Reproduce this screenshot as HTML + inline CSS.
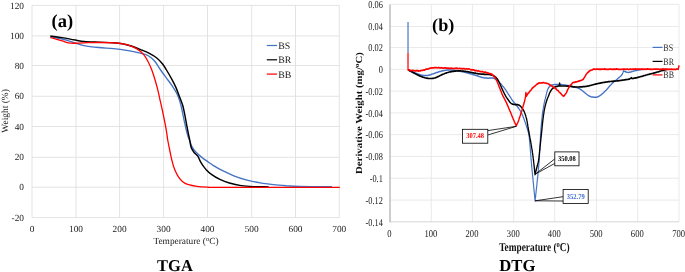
<!DOCTYPE html>
<html><head><meta charset="utf-8"><title>TGA DTG</title>
<style>html,body{margin:0;padding:0;background:#fff}svg{display:block;will-change:transform}text{font-family:"Liberation Serif",serif;text-rendering:geometricPrecision}</style>
</head><body>
<svg width="685" height="272" viewBox="0 0 685 272" fill="#1a1a1a">
<rect width="685" height="272" fill="#fff"/>
<g stroke="#dcdcdc" stroke-width="0.8" fill="none">
<line x1="32.0" y1="5.4" x2="32.0" y2="217.6"/>
<line x1="76.0" y1="5.4" x2="76.0" y2="217.6"/>
<line x1="119.6" y1="5.4" x2="119.6" y2="217.6"/>
<line x1="163.6" y1="5.4" x2="163.6" y2="217.6"/>
<line x1="207.5" y1="5.4" x2="207.5" y2="217.6"/>
<line x1="251.7" y1="5.4" x2="251.7" y2="217.6"/>
<line x1="295.5" y1="5.4" x2="295.5" y2="217.6"/>
<line x1="339.3" y1="5.4" x2="339.3" y2="217.6"/>
<line x1="32.0" y1="5.4" x2="339.3" y2="5.4"/>
<line x1="32.0" y1="35.9" x2="339.3" y2="35.9"/>
<line x1="32.0" y1="65.5" x2="339.3" y2="65.5"/>
<line x1="32.0" y1="96.3" x2="339.3" y2="96.3"/>
<line x1="32.0" y1="126.5" x2="339.3" y2="126.5"/>
<line x1="32.0" y1="157.3" x2="339.3" y2="157.3"/>
<line x1="32.0" y1="187.2" x2="339.3" y2="187.2"/>
<line x1="32.0" y1="217.6" x2="339.3" y2="217.6"/>
</g>
<g font-size="9.3" text-anchor="end">
<text x="24.0" y="8.5">120</text>
<text x="24.0" y="39.0">100</text>
<text x="24.0" y="68.6">80</text>
<text x="24.0" y="99.4">60</text>
<text x="24.0" y="129.6">40</text>
<text x="24.0" y="160.4">20</text>
<text x="24.0" y="190.3">0</text>
<text x="24.0" y="220.7">-20</text>
</g>
<g font-size="9.3" text-anchor="middle">
<text x="32.0" y="232.4">0</text>
<text x="76.0" y="232.4">100</text>
<text x="119.6" y="232.4">200</text>
<text x="163.6" y="232.4">300</text>
<text x="207.5" y="232.4">400</text>
<text x="251.7" y="232.4">500</text>
<text x="295.5" y="232.4">600</text>
<text x="339.3" y="232.4">700</text>
</g>
<text font-size="9.35" text-anchor="middle" x="186" y="244.4">Temperature (<tspan font-size="6.6" dy="-3">o</tspan><tspan dy="3">C)</tspan></text>
<text font-size="9.45" text-anchor="middle" transform="translate(8.1,110.9) rotate(-90)">Weight (%)</text>
<text font-size="16.5" font-weight="bold" text-anchor="middle" x="175" y="270.5" fill="#000">TGA</text>
<text font-size="18.5" font-weight="bold" x="51.5" y="27.3" fill="#000">(a)</text>
<path d="M50.3,36.8 C52.3,37.2 58.2,38.0 62.1,39.0 C66.0,40.0 70.1,41.5 73.8,42.6 C77.5,43.7 79.9,44.8 84.1,45.6 C88.3,46.4 93.9,47.0 98.8,47.5 C103.7,48.0 108.6,48.1 113.5,48.6 C118.4,49.1 124.1,50.0 128.2,50.7 C132.3,51.4 135.1,52.0 138.0,52.6 C140.9,53.2 143.7,53.7 145.9,54.6 C148.2,55.5 149.9,56.7 151.5,58.0 C153.1,59.3 154.2,60.5 155.7,62.5 C157.2,64.5 158.8,67.4 160.6,70.0 C162.4,72.6 164.5,75.4 166.5,78.1 C168.5,80.8 170.7,83.6 172.4,86.2 C174.1,88.8 175.6,91.0 176.8,93.5 C178.0,96.0 178.9,98.3 179.7,100.9 C180.5,103.5 181.2,106.3 181.8,109.0 C182.4,111.7 182.8,113.8 183.4,116.8 C184.0,119.8 184.9,123.9 185.6,127.1 C186.3,130.3 187.1,133.7 187.8,135.9 C188.5,138.1 189.0,138.7 189.7,140.5 C190.4,142.3 190.9,144.7 191.9,146.6 C192.9,148.5 194.0,150.1 195.6,151.8 C197.2,153.6 199.5,155.5 201.5,157.1 C203.5,158.7 205.4,160.0 207.4,161.4 C209.4,162.8 211.3,164.2 213.5,165.6 C215.7,167.0 217.2,168.0 220.6,169.7 C224.0,171.4 229.4,174.2 233.8,175.9 C238.2,177.7 242.7,179.0 247.1,180.2 C251.5,181.4 255.9,182.2 260.3,182.9 C264.7,183.7 269.1,184.2 273.5,184.7 C277.9,185.2 282.4,185.5 286.8,185.8 C291.2,186.1 292.5,186.3 300.0,186.5 C307.5,186.7 326.7,186.7 332.0,186.7" fill="none" stroke="#4472c4" stroke-width="1.35" stroke-linejoin="round" stroke-linecap="butt"/>
<path d="M50.3,36.0 C52.3,36.3 58.2,37.0 62.1,37.6 C66.0,38.2 70.1,39.1 73.8,39.8 C77.5,40.4 79.9,41.1 84.1,41.5 C88.3,41.9 93.9,42.0 98.8,42.2 C103.7,42.4 109.6,42.4 113.5,42.7 C117.4,43.0 119.5,43.2 122.4,43.8 C125.4,44.3 128.1,45.0 131.2,46.0 C134.3,47.0 138.2,48.6 141.2,49.8 C144.2,51.0 146.8,52.0 149.4,53.4 C152.0,54.8 154.6,56.2 156.8,58.0 C159.0,59.8 161.0,62.0 162.6,64.0 C164.2,66.0 165.0,67.5 166.5,70.0 C168.0,72.5 170.0,75.9 171.6,78.8 C173.2,81.7 174.7,84.5 176.0,87.6 C177.3,90.7 178.6,94.3 179.7,97.2 C180.8,100.1 181.7,102.0 182.6,105.0 C183.5,108.0 184.2,111.6 184.9,115.3 C185.7,119.0 186.3,123.2 187.1,127.1 C187.8,131.0 188.7,135.1 189.4,138.5 C190.1,141.9 190.4,145.1 191.2,147.4 C192.0,149.7 193.0,151.0 194.1,152.5 C195.2,154.0 196.7,154.6 197.8,156.2 C198.9,157.8 199.3,159.9 200.7,162.1 C202.0,164.3 204.1,167.3 205.9,169.4 C207.8,171.5 209.5,172.9 211.8,174.6 C214.1,176.3 217.0,178.0 219.9,179.4 C222.8,180.8 225.9,182.0 229.4,183.0 C232.9,184.0 237.3,185.0 241.2,185.6 C245.1,186.2 248.4,186.4 253.0,186.6 C257.6,186.8 266.1,186.8 268.7,186.9" fill="none" stroke="#000000" stroke-width="1.45" stroke-linejoin="round" stroke-linecap="butt"/>
<path d="M50.3,37.5 C52.3,38.1 58.7,39.9 62.1,40.9 C65.5,41.9 67.2,42.9 70.9,43.2 C74.6,43.5 79.4,42.9 84.1,42.8 C88.8,42.7 93.4,42.5 98.8,42.5 C104.2,42.5 111.6,42.6 116.5,43.0 C121.4,43.4 124.9,44.2 128.2,45.1 C131.5,46.0 133.9,47.1 136.5,48.6 C139.1,50.1 141.6,52.2 143.5,54.4 C145.4,56.5 146.6,58.9 148.0,61.5 C149.4,64.1 150.7,67.1 151.8,70.0 C152.9,72.9 153.7,75.6 154.7,78.8 C155.7,82.0 156.7,85.7 157.6,89.1 C158.5,92.5 159.1,95.8 159.9,99.4 C160.7,103.0 161.7,107.1 162.4,110.5 C163.1,113.9 163.6,116.2 164.3,119.7 C165.0,123.2 165.9,128.0 166.5,131.5 C167.1,135.0 167.2,137.3 167.8,140.5 C168.4,143.7 169.1,147.2 169.8,150.5 C170.5,153.8 171.1,157.2 171.9,160.4 C172.7,163.6 173.6,166.9 174.7,169.6 C175.8,172.3 177.0,174.8 178.4,176.8 C179.8,178.9 181.3,180.6 183.0,181.9 C184.7,183.2 186.2,184.0 188.5,184.7 C190.8,185.4 193.6,185.9 196.8,186.3 C200.0,186.7 203.6,186.9 207.8,187.1 C212.0,187.3 200.0,187.3 222.0,187.3 C244.0,187.3 320.2,187.3 339.8,187.3" fill="none" stroke="#ff0000" stroke-width="1.3" stroke-linejoin="round" stroke-linecap="butt"/>
<line x1="266.8" y1="45.5" x2="277.1" y2="45.5" stroke="#4472c4" stroke-width="1.2"/>
<text font-size="9.8" x="278.2" y="48.9">BS</text>
<line x1="266.8" y1="59.8" x2="277.1" y2="59.8" stroke="#000000" stroke-width="1.2"/>
<text font-size="9.8" x="278.2" y="63.2">BR</text>
<line x1="266.8" y1="74.1" x2="277.1" y2="74.1" stroke="#ff0000" stroke-width="1.2"/>
<text font-size="9.8" x="278.2" y="77.5">BB</text>
<g stroke="#e4e4e4" stroke-width="0.8" fill="none">
<line x1="431.3" y1="4.4" x2="431.3" y2="222.0"/>
<line x1="472.4" y1="4.4" x2="472.4" y2="222.0"/>
<line x1="513.7" y1="4.4" x2="513.7" y2="222.0"/>
<line x1="554.7" y1="4.4" x2="554.7" y2="222.0"/>
<line x1="596.5" y1="4.4" x2="596.5" y2="222.0"/>
<line x1="637.7" y1="4.4" x2="637.7" y2="222.0"/>
<line x1="679.0" y1="4.4" x2="679.0" y2="222.0"/>
<line x1="389.9" y1="4.4" x2="679.0" y2="4.4"/>
<line x1="389.9" y1="26.5" x2="679.0" y2="26.5"/>
<line x1="389.9" y1="47.5" x2="679.0" y2="47.5"/>
<line x1="389.9" y1="69.4" x2="679.0" y2="69.4"/>
<line x1="389.9" y1="91.1" x2="679.0" y2="91.1"/>
<line x1="389.9" y1="112.9" x2="679.0" y2="112.9"/>
<line x1="389.9" y1="134.6" x2="679.0" y2="134.6"/>
<line x1="389.9" y1="156.5" x2="679.0" y2="156.5"/>
<line x1="389.9" y1="178.2" x2="679.0" y2="178.2"/>
<line x1="389.9" y1="200.1" x2="679.0" y2="200.1"/>
</g>
<line x1="389.9" y1="221.8" x2="679.0" y2="221.8" stroke="#d2d2d2" stroke-width="0.9"/>
<line x1="390.0" y1="4.4" x2="390.0" y2="222.3" stroke="#bcbcbc" stroke-width="1.5"/>
<text font-size="10.4" text-anchor="end" transform="translate(382.8,8.0) scale(0.8,1)">0.06</text>
<text font-size="10.4" text-anchor="end" transform="translate(382.8,30.1) scale(0.8,1)">0.04</text>
<text font-size="10.4" text-anchor="end" transform="translate(382.8,51.1) scale(0.8,1)">0.02</text>
<text font-size="10.4" text-anchor="end" transform="translate(382.8,73.0) scale(0.8,1)">0</text>
<text font-size="10.4" text-anchor="end" transform="translate(382.8,94.7) scale(0.8,1)">-0.02</text>
<text font-size="10.4" text-anchor="end" transform="translate(382.8,116.5) scale(0.8,1)">-0.04</text>
<text font-size="10.4" text-anchor="end" transform="translate(382.8,138.2) scale(0.8,1)">-0.06</text>
<text font-size="10.4" text-anchor="end" transform="translate(382.8,160.1) scale(0.8,1)">-0.08</text>
<text font-size="10.4" text-anchor="end" transform="translate(382.8,181.8) scale(0.8,1)">-0.1</text>
<text font-size="10.4" text-anchor="end" transform="translate(382.8,203.7) scale(0.8,1)">-0.12</text>
<text font-size="10.4" text-anchor="end" transform="translate(382.8,225.6) scale(0.8,1)">-0.14</text>
<text font-size="10.4" text-anchor="middle" transform="translate(389.5,237.2) scale(0.825,1)">0</text>
<text font-size="10.4" text-anchor="middle" transform="translate(430.9,237.2) scale(0.825,1)">100</text>
<text font-size="10.4" text-anchor="middle" transform="translate(472.0,237.2) scale(0.825,1)">200</text>
<text font-size="10.4" text-anchor="middle" transform="translate(513.3,237.2) scale(0.825,1)">300</text>
<text font-size="10.4" text-anchor="middle" transform="translate(554.3,237.2) scale(0.825,1)">400</text>
<text font-size="10.4" text-anchor="middle" transform="translate(596.1,237.2) scale(0.825,1)">500</text>
<text font-size="10.4" text-anchor="middle" transform="translate(637.3,237.2) scale(0.825,1)">600</text>
<text font-size="10.4" text-anchor="middle" transform="translate(678.6,237.2) scale(0.825,1)">700</text>
<text font-size="12" font-weight="bold" text-anchor="middle" fill="#111" transform="translate(534.4,250.8) scale(0.778,1)">Temperature (<tspan font-size="8.4" dy="-3.6">o</tspan><tspan dy="3.6">C)</tspan></text>
<text font-size="10.77" font-weight="bold" text-anchor="middle" fill="#111" transform="translate(361.9,113) rotate(-90) scale(1,0.86)">Derivative Weight (mg/<tspan font-size="7.4" dy="-3.2">o</tspan><tspan dy="3.2">C)</tspan></text>
<text font-size="16.7" font-weight="bold" text-anchor="middle" x="517.4" y="270.5" fill="#000">DTG</text>
<text font-size="18.2" font-weight="bold" x="432.1" y="30.8" fill="#000">(b)</text>
<g transform="scale(0.78,1)">
<polyline points="523.1,22.0 523.1,53.0" fill="none" stroke="#4472c4" stroke-width="1.5" stroke-linejoin="round" stroke-linecap="butt"/>
<polyline points="523.1,69.9 523.5,70.0 524.0,70.2 524.6,70.4 525.3,70.6 526.1,70.9 526.9,71.1 527.7,71.4 528.6,71.6 529.4,71.9 530.2,72.1 531.0,72.4 531.7,72.6 532.5,72.9 533.2,73.1 534.0,73.4 534.8,73.6 535.5,73.9 536.3,74.1 537.0,74.3 537.7,74.5 538.5,74.7 539.2,74.9 540.1,75.1 540.9,75.2 541.8,75.3 542.6,75.4 543.4,75.5 544.3,75.6 545.1,75.6 546.0,75.6 546.8,75.6 547.5,75.5 548.3,75.5 549.0,75.3 549.7,75.2 550.5,75.0 551.2,74.9 552.0,74.7 552.7,74.5 553.5,74.3 554.4,74.1 555.1,73.9 555.8,73.7 556.6,73.5 557.3,73.3 558.1,73.1 558.9,72.8 559.7,72.6 560.5,72.4 561.3,72.2 562.1,72.0 562.9,71.8 563.7,71.6 564.5,71.4 565.3,71.3 566.1,71.1 566.9,71.0 567.7,70.8 568.5,70.7 569.3,70.5 570.0,70.4 570.8,70.3 571.6,70.2 572.4,70.2 573.2,70.1 574.0,70.1 574.8,70.0 575.6,70.0 576.3,70.0 577.1,70.1 577.9,70.1 578.7,70.1 579.4,70.2 580.2,70.2 581.0,70.3 581.8,70.3 582.6,70.4 583.4,70.5 584.1,70.5 584.9,70.6 585.7,70.7 586.5,70.8 587.3,70.9 588.1,71.0 588.9,71.1 589.7,71.2 590.5,71.4 591.3,71.5 592.1,71.6 592.8,71.7 593.6,71.9 594.4,72.0 595.2,72.1 596.0,72.3 596.7,72.4 597.5,72.6 598.3,72.7 599.1,72.9 599.8,73.1 600.6,73.2 601.4,73.4 602.2,73.6 603.0,73.7 603.8,73.9 604.6,74.1 605.5,74.3 606.3,74.5 607.1,74.7 607.9,74.9 608.7,75.1 609.4,75.2 610.2,75.4 610.9,75.6 611.7,75.8 612.5,76.0 613.3,76.2 614.1,76.4 614.8,76.6 615.5,76.8 616.3,77.0 617.0,77.2 617.7,77.4 618.5,77.5 619.3,77.6 620.2,77.8 621.0,77.9 621.9,77.9 622.7,78.0 623.6,78.1 624.4,78.1 625.2,78.2 625.9,78.2 626.8,78.2 627.7,78.1 628.5,78.1 629.3,78.0 630.1,77.9 630.8,77.9 631.5,77.9 632.4,78.0 633.2,78.3 633.9,78.6 634.6,78.9 635.3,79.2 635.9,79.5 636.5,79.7 637.1,80.0 637.8,80.5 638.7,81.2 639.1,81.5 639.6,81.9 640.1,82.3 640.6,82.8 641.2,83.2 641.8,83.7 642.4,84.2 643.0,84.7 643.6,85.3 644.1,85.8 644.7,86.3 645.3,86.8 645.8,87.3 646.3,87.8 646.8,88.3 647.3,88.8 647.7,89.3 648.2,89.8 648.6,90.3 649.0,90.8 649.4,91.4 649.8,91.9 650.3,92.4 650.7,92.9 651.1,93.4 651.5,93.9 651.9,94.4 652.4,94.9 652.8,95.4 653.3,96.0 653.7,96.5 654.2,97.1 654.6,97.6 655.1,98.1 655.5,98.7 655.9,99.2 656.4,99.7 656.8,100.1 657.2,100.6 657.6,101.0 658.1,101.6 658.7,102.1 659.2,102.6 659.7,103.0 660.1,103.4 660.6,103.9 661.2,104.4 661.8,105.0 662.2,105.4 662.6,105.9 663.1,106.4 663.6,106.8 664.0,107.4 664.5,107.9 665.0,108.4 665.5,109.0 666.0,109.5 666.5,110.1 666.9,110.7 667.4,111.3 667.8,111.9 668.2,112.4 668.5,113.0 668.9,113.5 669.2,114.1 669.5,114.7 669.9,115.3 670.2,115.9 670.5,116.5 670.8,117.1 671.1,117.7 671.4,118.3 671.7,118.9 672.0,119.5 672.3,120.1 672.6,120.7 672.8,121.3 673.1,121.9 673.4,122.5 673.7,123.1 673.9,123.7 674.2,124.3 674.4,124.9 674.7,125.5 674.9,126.1 675.2,126.7 675.4,127.3 675.6,127.9 675.9,128.4 676.1,129.0 676.3,129.6 676.5,130.2 676.7,130.7 676.9,131.1 677.0,131.5 677.2,131.9 677.3,132.3 677.5,132.7 677.6,133.1 677.8,133.6 677.9,134.3 678.1,135.0 678.2,135.8 678.4,136.8 678.6,138.0 678.6,138.4 678.7,138.8 678.8,139.2 678.8,139.7 678.9,140.1 678.9,140.6 679.0,141.1 679.1,141.6 679.1,142.1 679.2,142.6 679.2,143.1 679.3,143.6 679.3,144.2 679.4,144.7 679.5,145.3 679.5,145.9 679.6,146.4 679.6,147.0 679.7,147.6 679.8,148.2 679.8,148.8 679.9,149.5 680.0,150.1 680.0,150.7 680.1,151.4 680.2,152.0 680.2,152.7 680.3,153.3 680.4,154.0 680.4,154.6 680.5,155.3 680.6,156.0 680.6,156.7 680.7,157.4 680.8,158.0 680.8,158.7 680.9,159.4 681.0,160.1 681.1,160.8 681.1,161.5 681.2,162.2 681.3,162.9 681.4,163.6 681.5,164.3 681.5,165.0 681.6,165.5 681.7,166.1 681.7,166.6 681.8,167.2 681.9,167.8 681.9,168.4 682.0,169.0 682.1,169.6 682.2,170.3 682.2,170.9 682.3,171.5 682.4,172.2 682.5,172.9 682.6,173.5 682.7,174.2 682.7,174.9 682.8,175.6 682.9,176.3 683.0,177.0 683.1,177.7 683.2,178.4 683.3,179.1 683.3,179.8 683.4,180.5 683.5,181.2 683.6,181.9 683.7,182.6 683.8,183.3 683.9,184.0 684.0,184.7 684.1,185.4 684.1,186.1 684.2,186.7 684.3,187.4 684.4,188.1 684.5,188.8 684.6,189.4 684.6,190.1 684.7,190.7 684.8,191.3 684.9,192.0 685.0,192.6 685.0,193.2 685.1,193.7 685.2,194.3 685.3,194.9 685.3,195.4 685.4,196.0 685.5,196.5 685.5,197.0 685.6,197.5 685.6,197.9 685.7,198.4 685.8,198.8 685.8,199.2 685.9,199.6 685.9,200.0 685.9,200.4 686.0,200.7 686.0,201.0 686.0,201.0 686.1,200.7 686.1,200.4 686.2,200.0 686.2,199.6 686.3,199.2 686.3,198.8 686.4,198.4 686.4,198.0 686.5,197.5 686.6,197.0 686.6,196.5 686.7,196.0 686.8,195.5 686.9,194.9 686.9,194.4 687.0,193.8 687.1,193.3 687.2,192.7 687.3,192.1 687.3,191.5 687.4,190.8 687.5,190.2 687.6,189.6 687.7,188.9 687.8,188.3 687.9,187.6 688.0,186.9 688.1,186.3 688.2,185.6 688.3,184.9 688.3,184.2 688.4,183.5 688.5,182.8 688.6,182.1 688.7,181.4 688.8,180.7 688.9,180.0 689.0,179.3 689.1,178.6 689.2,177.9 689.3,177.2 689.4,176.5 689.5,175.8 689.6,175.1 689.6,174.4 689.7,173.8 689.8,173.1 689.9,172.4 690.0,171.7 690.1,171.1 690.1,170.4 690.2,169.8 690.3,169.2 690.4,168.5 690.4,167.9 690.5,167.3 690.6,166.7 690.6,166.1 690.7,165.6 690.8,165.0 690.8,164.3 690.9,163.7 691.0,163.0 691.0,162.3 691.1,161.7 691.2,161.0 691.2,160.3 691.3,159.6 691.3,159.0 691.4,158.3 691.5,157.6 691.5,156.9 691.6,156.3 691.6,155.6 691.7,154.9 691.7,154.2 691.8,153.6 691.8,152.9 691.9,152.2 691.9,151.6 692.0,150.9 692.0,150.3 692.1,149.6 692.1,149.0 692.1,148.3 692.2,147.7 692.2,147.1 692.3,146.4 692.3,145.8 692.4,145.2 692.4,144.6 692.4,144.0 692.5,143.4 692.5,142.8 692.5,142.3 692.6,141.7 692.6,141.1 692.7,140.6 692.7,140.0 692.7,139.5 692.8,139.0 692.8,138.4 692.8,137.9 692.9,137.4 692.9,137.0 692.9,136.5 693.0,136.0 693.0,135.6 693.0,135.1 693.1,134.7 693.2,133.6 693.2,132.7 693.3,131.8 693.4,131.0 693.5,130.2 693.5,129.6 693.6,128.9 693.6,128.3 693.7,127.8 693.7,127.3 693.8,126.8 693.8,126.3 693.9,125.9 693.9,125.4 694.0,125.0 694.0,124.5 694.1,124.0 694.2,123.5 694.2,122.9 694.3,122.3 694.4,121.6 694.5,121.0 694.5,120.4 694.6,119.8 694.7,119.1 694.7,118.5 694.8,117.9 694.9,117.4 695.0,116.8 695.1,116.2 695.2,115.6 695.2,115.0 695.3,114.4 695.4,113.8 695.5,113.2 695.6,112.6 695.8,112.0 695.9,111.4 696.0,110.7 696.1,110.1 696.3,109.4 696.4,108.8 696.6,108.1 696.7,107.5 696.9,106.9 697.0,106.2 697.2,105.6 697.3,105.0 697.4,104.4 697.6,103.9 697.7,103.4 697.8,102.9 697.9,102.4 698.2,101.5 698.4,100.8 698.5,100.2 698.7,99.7 698.9,99.2 699.1,98.7 699.3,98.1 699.5,97.4 699.7,96.9 699.8,96.3 700.0,95.6 700.2,95.0 700.4,94.3 700.6,93.6 700.8,92.9 701.0,92.3 701.3,91.6 701.5,91.0 701.7,90.5 701.9,90.0 702.3,89.3 702.7,88.6 703.1,88.0 703.5,87.5 703.9,87.1 704.3,86.7 704.7,86.3 705.4,85.9 706.0,85.5 706.7,85.3 707.5,85.1 708.5,84.9 709.1,84.8 709.8,84.7 710.6,84.6 711.5,84.5 712.3,84.5 713.2,84.4 714.1,84.4 715.1,84.4 716.0,84.4 716.8,84.4 717.5,84.5 718.3,84.5 719.1,84.6 719.9,84.6 720.8,84.7 721.6,84.8 722.4,84.9 723.2,84.9 724.0,85.0 724.8,85.1 725.5,85.2 726.3,85.3 727.1,85.4 727.9,85.5 728.6,85.6 729.3,85.7 730.0,85.8 730.7,85.9 731.5,86.0 732.3,86.1 733.1,86.3 733.8,86.4 734.6,86.6 735.3,86.7 736.1,86.9 736.9,87.0 737.8,87.2 738.6,87.4 739.4,87.6 740.2,87.8 741.0,88.0 741.7,88.2 742.4,88.5 743.1,88.8 743.8,89.1 744.5,89.5 745.2,89.8 745.8,90.2 746.5,90.6 747.1,91.0 747.7,91.4 748.3,91.8 748.9,92.2 749.4,92.6 750.0,92.9 750.7,93.3 751.3,93.7 752.0,94.1 752.5,94.5 753.1,94.9 753.7,95.2 754.3,95.5 754.9,95.8 755.6,96.1 756.3,96.3 757.1,96.5 757.8,96.7 758.6,96.9 759.4,97.0 760.2,97.1 761.0,97.2 761.8,97.3 762.5,97.3 763.2,97.3 764.1,97.3 764.9,97.2 765.7,97.0 766.4,96.8 767.2,96.6 768.0,96.2 768.8,95.8 769.4,95.5 770.0,95.2 770.6,94.8 771.2,94.4 771.9,94.0 772.5,93.6 773.2,93.1 773.8,92.6 774.5,92.2 775.1,91.7 775.8,91.2 776.4,90.7 777.0,90.3 777.5,89.8 778.0,89.4 778.6,88.9 779.1,88.4 779.7,87.9 780.2,87.4 780.7,86.9 781.3,86.4 781.8,85.9 782.4,85.4 782.9,85.0 783.4,84.5 784.0,84.1 784.6,83.7 785.2,83.2 785.8,82.8 786.4,82.4 787.0,81.9 787.6,81.5 788.2,81.1 788.8,80.7 789.4,80.4 789.9,80.0 790.5,79.6 791.0,79.3 791.5,78.9 792.3,78.4 793.0,77.9 793.7,77.5 794.4,77.0 795.0,76.6 795.6,76.2 796.2,75.8 796.7,75.3 797.2,74.9 797.7,74.3 798.1,73.6 798.5,72.9 798.8,72.3 799.0,71.7 799.2,71.2 799.4,70.8 799.4,70.8 800.0,71.0 800.9,71.4 801.9,71.7 802.8,72.0 803.7,72.2 804.5,72.3 805.5,72.4 806.5,72.3 807.2,72.2 808.0,72.1 808.8,71.9 809.7,71.7 810.5,71.5 811.4,71.3 812.2,71.1 813.0,70.9 813.8,70.8 814.5,70.6 815.3,70.5 816.1,70.4 817.0,70.2 817.8,70.1 818.6,70.0 819.5,69.9 820.5,69.8 821.4,69.7 822.3,69.6 823.2,69.5 823.8,69.5 824.4,69.4" fill="none" stroke="#4472c4" stroke-width="1.5" stroke-linejoin="round" stroke-linecap="butt"/>
<polyline points="523.1,69.9 523.5,70.1 524.1,70.3 524.8,70.6 525.5,70.9 526.4,71.2 527.2,71.6 528.1,71.9 528.9,72.3 529.7,72.6 530.4,72.9 531.1,73.1 531.7,73.4 532.4,73.7 533.1,74.0 533.8,74.3 534.5,74.6 535.2,74.8 535.9,75.1 536.6,75.4 537.3,75.6 538.1,75.9 538.8,76.1 539.6,76.4 540.4,76.6 541.2,76.8 541.9,77.1 542.7,77.3 543.4,77.5 544.2,77.6 544.9,77.8 545.7,78.0 546.6,78.1 547.4,78.2 548.2,78.3 549.0,78.4 549.8,78.5 550.6,78.5 551.4,78.5 552.2,78.5 553.0,78.5 553.8,78.5 554.6,78.4 555.4,78.3 556.2,78.2 557.1,78.0 558.1,77.8 558.7,77.6 559.4,77.4 560.1,77.2 560.8,76.9 561.5,76.6 562.2,76.4 563.0,76.1 563.7,75.8 564.5,75.5 565.2,75.2 566.0,74.9 566.7,74.6 567.4,74.4 568.2,74.2 568.9,74.0 569.6,73.7 570.3,73.5 571.0,73.3 571.7,73.1 572.4,72.9 573.1,72.7 573.9,72.5 574.6,72.4 575.4,72.2 576.1,72.0 576.9,71.9 577.7,71.8 578.5,71.7 579.3,71.6 580.1,71.5 580.9,71.4 581.7,71.3 582.6,71.2 583.4,71.1 584.2,71.1 585.1,71.0 585.9,71.0 586.7,70.9 587.5,70.9 588.2,70.9 589.1,70.9 589.9,70.9 590.7,70.9 591.5,71.0 592.3,71.0 593.1,71.1 593.8,71.1 594.6,71.2 595.4,71.3 596.1,71.3 596.9,71.4 597.7,71.5 598.5,71.6 599.3,71.7 600.0,71.8 600.8,71.9 601.6,72.0 602.4,72.2 603.1,72.3 603.9,72.4 604.7,72.5 605.5,72.7 606.3,72.8 607.1,72.9 607.8,73.0 608.6,73.1 609.4,73.2 610.2,73.3 611.0,73.5 611.8,73.6 612.6,73.7 613.4,73.8 614.2,73.9 615.0,74.0 615.8,74.0 616.5,74.1 617.3,74.2 618.1,74.2 619.0,74.2 619.8,74.2 620.6,74.3 621.5,74.3 622.3,74.3 623.1,74.3 623.8,74.3 624.6,74.3 625.2,74.4 625.9,74.4 626.9,74.5 627.8,74.6 628.6,74.7 629.4,74.8 630.1,74.9 630.8,75.1 631.5,75.3 632.3,75.6 633.0,75.9 633.7,76.2 634.4,76.5 635.0,76.9 635.7,77.3 636.3,77.8 636.8,78.2 637.2,78.7 637.7,79.1 638.1,79.6 638.5,80.1 638.9,80.7 639.3,81.3 639.7,81.9 640.0,82.4 640.3,82.9 640.6,83.4 640.9,83.9 641.2,84.5 641.5,85.0 641.8,85.6 642.2,86.2 642.5,86.8 642.8,87.3 643.1,87.9 643.5,88.5 643.8,89.0 644.1,89.6 644.5,90.1 644.8,90.7 645.2,91.3 645.5,91.8 645.9,92.4 646.2,93.0 646.6,93.5 646.9,94.0 647.3,94.6 647.6,95.0 647.9,95.5 648.4,96.1 648.8,96.7 649.3,97.3 649.7,97.8 650.1,98.3 650.5,98.7 651.0,99.2 651.4,99.7 651.8,100.1 652.3,100.7 652.8,101.2 653.3,101.8 653.9,102.3 654.4,102.7 654.9,103.1 655.5,103.5 656.2,103.8 657.0,104.1 657.8,104.2 658.6,104.4 659.5,104.5 660.3,104.6 661.1,104.7 661.9,104.7 662.7,104.7 663.5,104.7 664.3,104.8 665.0,105.0 665.7,105.3 666.3,105.6 666.9,106.0 667.5,106.4 668.1,106.9 668.7,107.5 669.1,107.9 669.6,108.4 670.0,108.9 670.5,109.5 670.9,110.0 671.4,110.6 671.8,111.3 672.2,111.9 672.6,112.6 672.8,113.1 673.1,113.7 673.4,114.2 673.6,114.8 673.9,115.4 674.1,116.0 674.3,116.7 674.5,117.3 674.8,117.9 675.0,118.6 675.2,119.3 675.4,120.0 675.5,120.5 675.7,121.0 675.8,121.6 675.9,122.1 676.0,122.6 676.1,123.2 676.3,123.7 676.4,124.3 676.5,124.8 676.6,125.4 676.7,126.0 676.8,126.7 677.0,127.3 677.1,128.0 677.3,128.7 677.4,129.5 677.6,130.0 677.7,130.5 677.8,131.1 677.9,131.6 678.1,132.2 678.2,132.8 678.4,133.4 678.5,134.0 678.6,134.6 678.8,135.2 679.0,135.8 679.1,136.5 679.3,137.1 679.4,137.7 679.6,138.4 679.7,139.0 679.9,139.7 680.0,140.3 680.2,141.0 680.3,141.6 680.5,142.2 680.6,142.9 680.8,143.5 680.9,144.1 681.0,144.7 681.2,145.3 681.3,145.9 681.4,146.6 681.5,147.2 681.7,147.8 681.8,148.4 681.9,149.0 682.1,149.6 682.2,150.2 682.3,150.8 682.4,151.4 682.5,152.0 682.6,152.7 682.8,153.3 682.9,153.9 683.0,154.5 683.1,155.1 683.2,155.7 683.3,156.3 683.4,156.9 683.5,157.5 683.6,158.2 683.7,158.8 683.8,159.4 683.9,160.0 684.0,160.6 684.1,161.3 684.2,162.0 684.3,162.7 684.4,163.3 684.5,164.0 684.6,164.8 684.7,165.5 684.8,166.2 684.9,166.9 685.0,167.6 685.1,168.3 685.2,168.9 685.3,169.6 685.3,170.2 685.4,170.8 685.5,171.4 685.6,172.0 685.6,172.5 685.7,173.0 685.8,173.5 685.8,173.9 685.9,174.3 685.9,174.6 685.9,174.6 686.0,174.3 686.2,173.8 686.3,173.3 686.5,172.8 686.7,172.2 686.9,171.5 687.2,170.8 687.4,170.1 687.6,169.4 687.9,168.7 688.1,168.0 688.3,167.3 688.6,166.7 688.8,166.1 688.9,165.5 689.1,165.0 689.3,164.3 689.5,163.7 689.7,163.2 689.9,162.7 690.0,162.3 690.2,161.8 690.3,161.2 690.5,160.4 690.6,159.4 690.7,159.0 690.8,158.5 690.9,158.0 691.0,157.5 691.0,156.9 691.1,156.4 691.2,155.8 691.3,155.2 691.4,154.6 691.5,153.9 691.5,153.3 691.6,152.6 691.7,152.0 691.8,151.3 691.9,150.6 692.0,150.0 692.1,149.3 692.2,148.6 692.3,148.0 692.3,147.3 692.4,146.6 692.5,146.0 692.6,145.3 692.7,144.7 692.8,144.1 692.9,143.5 692.9,142.9 693.0,142.2 693.1,141.6 693.2,141.0 693.3,140.3 693.4,139.7 693.5,139.0 693.5,138.4 693.6,137.7 693.7,137.1 693.8,136.5 693.9,135.8 694.0,135.2 694.1,134.6 694.1,134.0 694.2,133.4 694.3,132.8 694.4,132.2 694.5,131.6 694.5,131.1 694.6,130.5 694.7,130.0 694.7,129.5 694.9,128.7 694.9,128.0 695.0,127.2 695.1,126.6 695.2,125.9 695.3,125.3 695.4,124.7 695.4,124.2 695.5,123.6 695.6,123.0 695.7,122.4 695.7,121.9 695.8,121.3 695.9,120.6 696.0,120.0 696.1,119.4 696.2,118.8 696.3,118.2 696.4,117.6 696.5,117.0 696.6,116.4 696.7,115.7 696.8,115.1 696.9,114.5 697.1,113.9 697.2,113.3 697.3,112.6 697.4,112.0 697.5,111.4 697.7,110.8 697.8,110.3 697.9,109.7 698.1,109.1 698.3,108.4 698.5,107.8 698.6,107.1 698.8,106.5 699.0,105.9 699.2,105.3 699.4,104.7 699.6,104.1 699.8,103.5 700.0,102.9 700.2,102.4 700.4,101.9 700.6,101.4 700.8,100.9 701.1,100.1 701.4,99.4 701.7,98.8 702.0,98.2 702.3,97.6 702.6,97.1 702.9,96.6 703.2,96.0 703.5,95.4 703.8,94.8 704.1,94.2 704.3,93.7 704.6,93.1 704.9,92.6 705.3,92.0 705.6,91.5 706.1,90.9 706.6,90.3 707.1,89.7 707.7,89.2 708.3,88.7 708.9,88.2 709.5,87.8 710.2,87.4 711.1,87.1 711.9,86.8 712.8,86.6 713.5,86.5 714.2,86.3 715.4,86.1 716.3,86.0 716.9,86.0 716.9,86.0 717.0,85.5 717.1,84.9 717.2,84.1 717.4,83.5 717.4,83.0 717.4,83.0 717.5,83.5 717.6,84.1 717.8,84.9 717.9,85.5 717.9,86.0 717.9,86.0 718.4,86.0 719.0,86.0 719.6,86.0 720.3,86.0 721.1,86.0 722.0,86.0 722.9,86.0 723.8,86.0 724.7,86.0 725.6,86.0 726.6,86.1 727.4,86.1 728.2,86.1 728.9,86.2 729.7,86.3 730.5,86.3 731.3,86.4 732.0,86.5 732.8,86.6 733.7,86.7 734.5,86.8 735.3,86.8 736.1,86.9 737.0,86.9 737.8,87.0 738.7,87.0 739.4,87.0 740.2,87.0 740.9,87.0 741.7,87.0 742.5,87.0 743.2,86.9 744.0,86.9 744.8,86.9 745.6,86.8 746.4,86.8 747.2,86.7 748.0,86.7 748.8,86.6 749.6,86.6 750.4,86.5 751.1,86.4 751.9,86.3 752.7,86.2 753.5,86.1 754.3,86.0 755.0,85.8 755.8,85.7 756.6,85.5 757.4,85.4 758.1,85.2 758.9,85.0 759.7,84.9 760.5,84.7 761.2,84.5 762.0,84.4 762.8,84.2 763.6,84.1 764.4,83.9 765.1,83.8 765.9,83.7 766.7,83.5 767.4,83.4 768.2,83.3 769.0,83.2 769.7,83.1 770.5,82.9 771.2,82.8 772.0,82.7 772.8,82.6 773.5,82.5 774.3,82.4 775.1,82.3 775.9,82.2 776.7,82.1 777.5,82.0 778.3,81.9 779.1,81.8 779.8,81.7 780.6,81.7 781.4,81.6 782.2,81.5 783.0,81.5 783.8,81.4 784.6,81.4 785.4,81.3 786.2,81.2 787.1,81.2 787.9,81.1 788.7,81.1 789.5,81.0 790.3,81.0 791.0,80.9 791.8,80.8 792.6,80.8 793.3,80.7 794.2,80.6 795.0,80.5 795.9,80.4 796.8,80.3 797.8,80.2 798.7,80.1 799.6,80.0 800.4,79.9 801.3,79.8 802.1,79.7 802.9,79.6 803.7,79.5 804.4,79.5 805.0,79.4 805.6,79.3 806.1,79.2 806.5,79.2 806.5,79.2 807.2,78.9 808.1,78.4 809.1,77.9 809.7,77.6 809.7,77.6 810.3,78.6 810.3,78.6 810.7,78.5 811.2,78.5 811.8,78.4 812.5,78.3 813.2,78.2 814.0,78.1 814.9,77.9 815.8,77.8 816.8,77.6 817.8,77.4 818.5,77.3 819.1,77.1 819.9,77.0 820.6,76.8 821.4,76.6 822.2,76.5 823.0,76.3 823.9,76.1 824.7,75.9 825.6,75.7 826.4,75.5 827.2,75.3 828.1,75.1 828.8,75.0 829.6,74.8 830.3,74.6 831.0,74.5 831.9,74.3 832.8,74.1 833.7,74.0 834.5,73.8 835.2,73.7 836.0,73.5 836.7,73.4 837.5,73.2 838.2,73.1 839.0,72.9 839.7,72.8 840.5,72.6 841.3,72.4 842.1,72.2 843.0,72.0 843.8,71.8 844.7,71.6 845.5,71.4 846.3,71.2 847.1,71.0 847.9,70.8 848.6,70.6 849.3,70.4 850.0,70.3 851.1,70.1 852.1,69.9 853.0,69.7 853.8,69.6 854.6,69.5 855.2,69.4 855.6,69.3" fill="none" stroke="#000000" stroke-width="1.7" stroke-linejoin="round" stroke-linecap="butt"/>
<polyline points="523.1,53.0 523.1,70.4" fill="none" stroke="#ff0000" stroke-width="1.6" stroke-linejoin="round" stroke-linecap="butt"/>
<polyline points="523.1,69.9 523.8,70.0 524.9,69.9 526.3,70.5 527.9,70.5 528.8,70.3 529.8,70.5 530.8,70.6 531.9,70.8 533.0,71.0 534.2,70.6 535.3,70.6 536.3,71.1 537.3,70.9 538.5,71.0 539.6,70.4 540.7,70.5 541.7,70.4 542.8,70.0 543.8,70.2 544.9,69.9 545.9,69.2 547.0,69.0 548.0,69.0 549.1,69.0 550.1,68.5 551.3,68.2 552.4,68.2 553.4,67.8 554.4,67.9 555.3,67.9 556.4,67.9 557.4,67.7 558.5,67.7 559.5,67.7 560.7,67.8 561.8,67.7 562.7,67.5 563.7,68.0 564.7,67.9 565.6,67.9 566.6,67.7 567.7,68.2 568.7,68.2 569.8,67.8 570.9,67.9 572.0,68.2 573.2,68.2 574.2,68.4 575.2,68.1 576.2,68.4 577.3,68.3 578.4,68.1 579.6,68.3 580.7,68.5 581.8,68.5 583.0,68.3 584.1,68.4 585.2,68.1 586.2,68.3 587.2,68.6 588.2,68.5 589.4,68.4 590.5,68.6 591.7,68.7 592.7,68.8 593.8,68.6 594.8,68.7 595.8,68.8 596.8,69.0 597.7,68.9 598.6,68.9 599.5,69.0 600.7,68.8 601.9,69.0 602.9,69.5 603.9,69.8 604.9,69.7 605.9,69.8 607.1,69.8 608.0,70.1 609.0,70.6 610.1,70.6 611.1,70.7 612.2,71.0 613.3,70.8 614.4,71.2 615.5,71.6 616.5,71.5 617.6,71.6 618.7,71.7 619.8,72.0 620.9,72.4 622.0,72.0 623.1,72.6 624.1,72.7 625.0,72.9 625.9,73.0 627.1,73.4 628.1,73.5 629.1,73.8 629.9,74.1 630.7,74.2 631.5,75.1 632.4,75.5 633.2,75.9 633.9,76.8 634.7,77.6 635.4,78.4 635.8,79.0 636.2,79.7 636.6,80.4 637.0,81.1 637.4,81.8 637.8,82.3 638.2,83.2 638.6,84.0 639.1,85.1 639.5,86.0 639.8,86.6 640.2,87.4 640.6,88.2 641.0,88.6 641.4,89.8 641.8,90.5 642.2,91.0 642.6,91.8 643.0,92.5 643.4,93.7 643.8,94.2 644.2,94.8 644.7,95.9 645.2,96.5 645.7,97.1 646.1,97.8 646.6,98.7 647.0,99.2 647.5,99.9 648.0,100.9 648.5,101.5 649.0,102.3 649.4,103.1 649.8,103.6 650.2,104.5 650.7,105.3 651.1,106.0 651.6,106.8 652.0,108.0 652.5,108.6 652.9,109.3 653.4,110.3 653.8,111.3 654.2,111.6 654.6,112.3 655.0,113.2 655.5,114.3 655.9,114.8 656.3,116.0 656.8,116.7 657.2,117.5 657.6,118.0 658.0,119.2 658.4,119.8 658.7,120.3 659.0,120.8 659.4,121.6 660.0,122.6 660.6,123.7 661.1,124.4 661.5,125.2 661.8,125.4 661.8,125.5 662.1,125.4 662.5,124.8 663.1,123.7 663.7,123.0 664.4,121.4 664.6,121.2 664.9,120.4 665.3,119.5 665.6,118.6 666.0,117.6 666.3,117.3 666.7,115.9 667.0,115.5 667.4,114.7 667.7,113.6 668.1,112.6 668.4,112.2 668.7,111.5 669.1,110.4 669.4,109.5 669.7,108.5 670.1,107.7 670.4,106.8 670.7,106.2 671.0,105.3 671.3,104.4 671.6,103.6 671.8,103.2 672.1,102.4 672.4,101.4 672.8,100.2 673.0,99.6 673.3,98.8 673.4,97.6 673.6,97.2 673.6,97.3 673.7,97.1 673.8,96.1 673.9,94.8 674.0,93.7 674.2,93.1 674.2,92.6 674.2,92.6 674.4,93.0 674.7,94.3 674.9,95.1 675.1,95.7 675.1,96.0 675.5,95.1 676.1,94.8 676.7,93.7 677.5,92.9 678.3,92.4 678.9,91.5 679.6,91.1 680.3,90.4 681.0,89.8 681.8,88.9 682.5,88.2 683.3,87.5 684.0,87.3 684.9,86.5 685.8,86.0 686.8,85.4 687.7,84.5 688.7,84.2 689.6,83.6 690.8,83.1 691.9,82.8 693.1,83.0 694.2,82.8 695.4,82.8 696.5,82.5 697.7,82.8 698.8,83.0 699.9,83.1 701.0,83.4 701.9,83.5 702.8,83.7 703.7,84.1 704.6,84.9 705.6,85.1 706.7,85.8 707.4,86.0 708.3,86.3 709.1,87.1 710.0,87.6 710.9,87.7 711.8,88.5 712.6,88.8 713.5,89.3 714.2,90.2 715.2,90.4 716.1,91.2 717.0,92.3 717.8,92.7 718.5,93.1 719.3,93.7 719.9,94.3 721.0,95.3 721.8,95.5 722.3,96.2 722.3,95.9 722.9,95.9 723.7,95.4 724.6,94.4 725.5,93.5 726.0,93.0 726.4,92.1 726.9,91.6 727.3,90.4 727.8,89.5 728.3,89.2 728.8,88.1 729.2,87.6 729.9,86.7 730.5,85.8 731.2,85.0 731.8,84.9 732.4,84.3 733.1,83.9 734.0,82.8 734.8,82.5 735.7,82.4 736.8,82.4 737.8,81.9 739.0,81.8 740.2,81.6 741.3,81.2 742.4,81.1 743.7,80.7 744.9,80.4 746.1,80.0 747.2,79.5 747.9,79.3 748.5,78.3 749.1,77.6 749.7,76.8 750.3,76.2 750.9,75.1 751.6,74.3 752.4,73.5 753.1,72.8 753.9,72.4 754.7,71.8 755.6,71.0 756.4,70.6 757.4,70.3 758.4,70.0 759.5,69.8 760.2,69.4 760.8,69.2 761.4,69.2 762.2,69.1 763.2,69.3 764.8,69.0 766.9,69.0 767.6,69.3 768.3,69.1 769.1,69.3 769.9,69.2 770.8,69.4 771.7,69.0 772.7,69.2 773.7,69.3 774.7,68.9 775.7,69.4 776.8,69.0 777.9,69.3 779.0,69.4 780.1,69.4 781.2,69.1 782.4,69.0 783.5,69.2 784.7,69.4 785.8,69.1 787.0,69.4 788.2,69.0 789.3,69.4 790.5,68.9 791.6,69.1 792.7,69.4 793.8,69.4 794.9,69.4 795.9,69.4 796.9,69.3 797.9,69.3 798.9,69.0 799.8,69.2 800.8,69.0 801.8,69.3 802.7,69.3 803.7,69.1 804.6,69.0 805.6,69.5 806.6,69.4 807.6,69.2 808.5,69.2 809.5,69.4 810.5,69.2 811.6,69.1 812.6,69.1 813.7,69.1 814.7,68.9 815.9,69.3 817.0,69.2 818.1,69.2 819.3,69.0 820.5,69.1 821.8,69.0 823.0,69.0 824.4,69.1 825.2,69.4 826.1,69.1 827.1,69.1 828.0,69.3 829.0,69.1 830.1,68.9 831.1,69.2 832.2,69.2 833.3,69.3 834.5,69.2 835.6,69.3 836.8,69.3 837.9,69.1 839.1,69.2 840.3,69.2 841.5,69.0 842.7,69.2 843.9,69.2 845.1,69.4 846.4,69.4 847.6,69.1 848.8,69.3 850.0,68.9 851.1,69.0 852.3,69.2 853.5,69.4 854.6,69.0 855.7,69.3 856.8,69.4 857.9,69.1 859.0,69.3 860.0,69.4 861.0,69.1 862.0,69.3 862.9,69.3 863.8,69.3 864.7,69.4 865.5,69.4 866.3,69.5 867.0,69.2 867.7,69.0 868.4,69.1 868.9,69.0 869.5,69.2 869.5,69.3 869.7,68.4 869.9,67.8 870.2,66.9 870.5,65.8 870.6,65.3" fill="none" stroke="#ff0000" stroke-width="1.75" stroke-linejoin="round" stroke-linecap="butt"/>
</g>
<line x1="652.6" y1="47.4" x2="662.5" y2="47.4" stroke="#4472c4" stroke-width="1.2"/>
<text font-size="10" fill="#303030" transform="translate(663.3,50.7) scale(0.8,1)">BS</text>
<line x1="652.6" y1="61.4" x2="662.5" y2="61.4" stroke="#000000" stroke-width="1.2"/>
<text font-size="10" fill="#303030" transform="translate(663.3,64.7) scale(0.8,1)">BR</text>
<line x1="652.6" y1="74.9" x2="662.5" y2="74.9" stroke="#ff0000" stroke-width="1.2"/>
<text font-size="10" fill="#303030" transform="translate(663.3,78.2) scale(0.8,1)">BB</text>
<path d="M487.8,130.6 L516.4,126.3 L487.8,135.0" fill="#fff" stroke="#000" stroke-width="0.8" stroke-linejoin="miter"/><rect x="462.5" y="129.3" width="25.3" height="13.9" fill="#fff" stroke="#000" stroke-width="0.8"/><text font-size="7.4" font-weight="bold" text-anchor="middle" fill="#ff0000" transform="translate(475.1,138.4) scale(0.88,1)">307.48</text>
<path d="M554.8,158.9 L535.2,174.2 L554.8,163.4" fill="#fff" stroke="#000" stroke-width="0.8" stroke-linejoin="miter"/><rect x="554.8" y="151.9" width="24.2" height="13.9" fill="#fff" stroke="#000" stroke-width="0.8"/><text font-size="7.4" font-weight="bold" text-anchor="middle" fill="#000000" transform="translate(566.9,161.1) scale(0.88,1)">350.08</text>
<path d="M563.1,196.7 L535.2,200.8 L563.1,201.0" fill="#fff" stroke="#000" stroke-width="0.8" stroke-linejoin="miter"/><rect x="563.1" y="189.4" width="25.1" height="14.0" fill="#fff" stroke="#000" stroke-width="0.8"/><text font-size="7.4" font-weight="bold" text-anchor="middle" fill="#3a6bd0" transform="translate(575.7,198.6) scale(0.88,1)">352.79</text>
</svg></body></html>
